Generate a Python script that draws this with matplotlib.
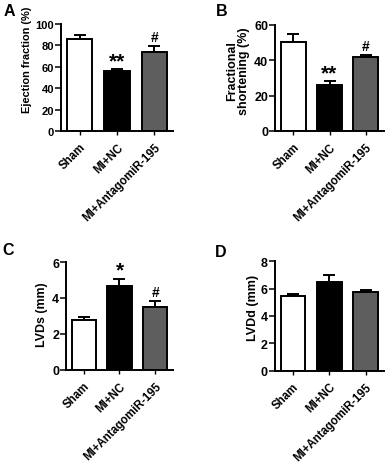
import matplotlib
matplotlib.use("Agg")
import matplotlib.pyplot as plt

plt.rcParams['font.family'] = ['Liberation Sans', 'DejaVu Sans']
plt.rcParams['font.weight'] = 'bold'

groups = ["Sham", "MI+NC", "MI+AntagomiR-195"]
colors = ["white", "black", "#5e5e5e"]

ef_mean = [86, 56, 74]
ef_err = [3.5, 2, 5.5]
fs_mean = [50, 26, 41.5]
fs_err = [4.5, 2, 1.3]
lvds_mean = [2.8, 4.68, 3.52]
lvds_err = [0.17, 0.4, 0.3]
lvdd_mean = [5.43, 6.5, 5.73]
lvdd_err = [0.17, 0.47, 0.14]

ef_marks = ["", "**", "#"]
fs_marks = ["", "**", "#"]
lvds_marks = ["", "*", "#"]
lvdd_marks = ["", "", ""]

W, H = 387, 464
fig = plt.figure(figsize=(W / 100, H / 100), dpi=100)


def box(l, r, t, b):
    return [l / W, 1 - b / H, (r - l) / W, (b - t) / H]


panels = [
    ("A", box(61, 173, 25, 132), ef_mean, ef_err, ef_marks, (0, 100), [0, 20, 40, 60, 80, 100],
     "Ejection fraction (%)", (9, 12), 8.0, 7.9, (-0.308, 0.67)),
    ("B", box(275, 384, 25.7, 132), fs_mean, fs_err, fs_marks, (0, 60), [0, 20, 40, 60],
     "Fractional\nshortening (%)", (222, 11), 9.0, 9.0, (-0.335, 0.57)),
    ("C", box(66, 173, 263, 371), lvds_mean, lvds_err, lvds_marks, (0, 6), [0, 2, 4, 6],
     "LVDs (mm)", (8, 251), 9.0, 8.9, (-0.224, 0.52)),
    ("D", box(274.7, 384, 262.3, 371.7), lvdd_mean, lvdd_err, lvdd_marks, (0, 8), [0, 2, 4, 6, 8],
     "LVDd (mm)", (221, 253), 9.0, 9.0, (-0.199, 0.58)),
]

for label, rect, means, errs, marks, ylim, yticks, ylabel, lpos, tfs, lfs, lcoord in panels:
    ax = fig.add_axes(rect)
    x = list(range(len(groups)))
    ax.bar(x, means, width=0.68, color=colors, edgecolor="black", linewidth=1.4, zorder=2)
    ax.errorbar(x, means, yerr=[[0] * len(errs), errs], fmt="none", ecolor="black",
                elinewidth=1.4, capsize=4.5, capthick=1.4, zorder=1)
    span = ylim[1] - ylim[0]
    for xi, m, e, mk in zip(x, means, errs, marks):
        if mk:
            if "*" in mk:
                ax.text(xi, m + e - span * 0.01, mk, ha="center", va="bottom",
                        fontsize=15, fontweight="bold")
            else:
                ax.text(xi, m + e + span * 0.02, mk, ha="center", va="bottom",
                        fontsize=10, fontweight="bold")
    ax.set_xlim(-0.5, 2.5)
    ax.set_ylim(*ylim)
    ax.set_yticks(yticks)
    ax.set_xticks(x)
    ax.set_xticklabels(groups, rotation=45, ha="right", rotation_mode="anchor",
                       fontsize=8.3, fontweight="bold")
    for t in ax.get_yticklabels():
        t.set_fontsize(tfs)
        t.set_fontweight("bold")
    ax.set_ylabel(ylabel, fontsize=lfs, fontweight="bold", linespacing=1.0,
                  va="center", ha="center")
    ax.yaxis.set_label_coords(*lcoord)
    for s in ["top", "right"]:
        ax.spines[s].set_visible(False)
    for s in ["left", "bottom"]:
        ax.spines[s].set_linewidth(1.4)
    ax.tick_params(axis="y", length=4, width=1.1, pad=1)
    ax.tick_params(axis="x", length=3, width=1.0, pad=4)
    fig.text(lpos[0] / W, 1 - lpos[1] / H, label, fontsize=11.5, fontweight="bold",
             ha="center", va="center")

fig.savefig("out.png", dpi=100)
